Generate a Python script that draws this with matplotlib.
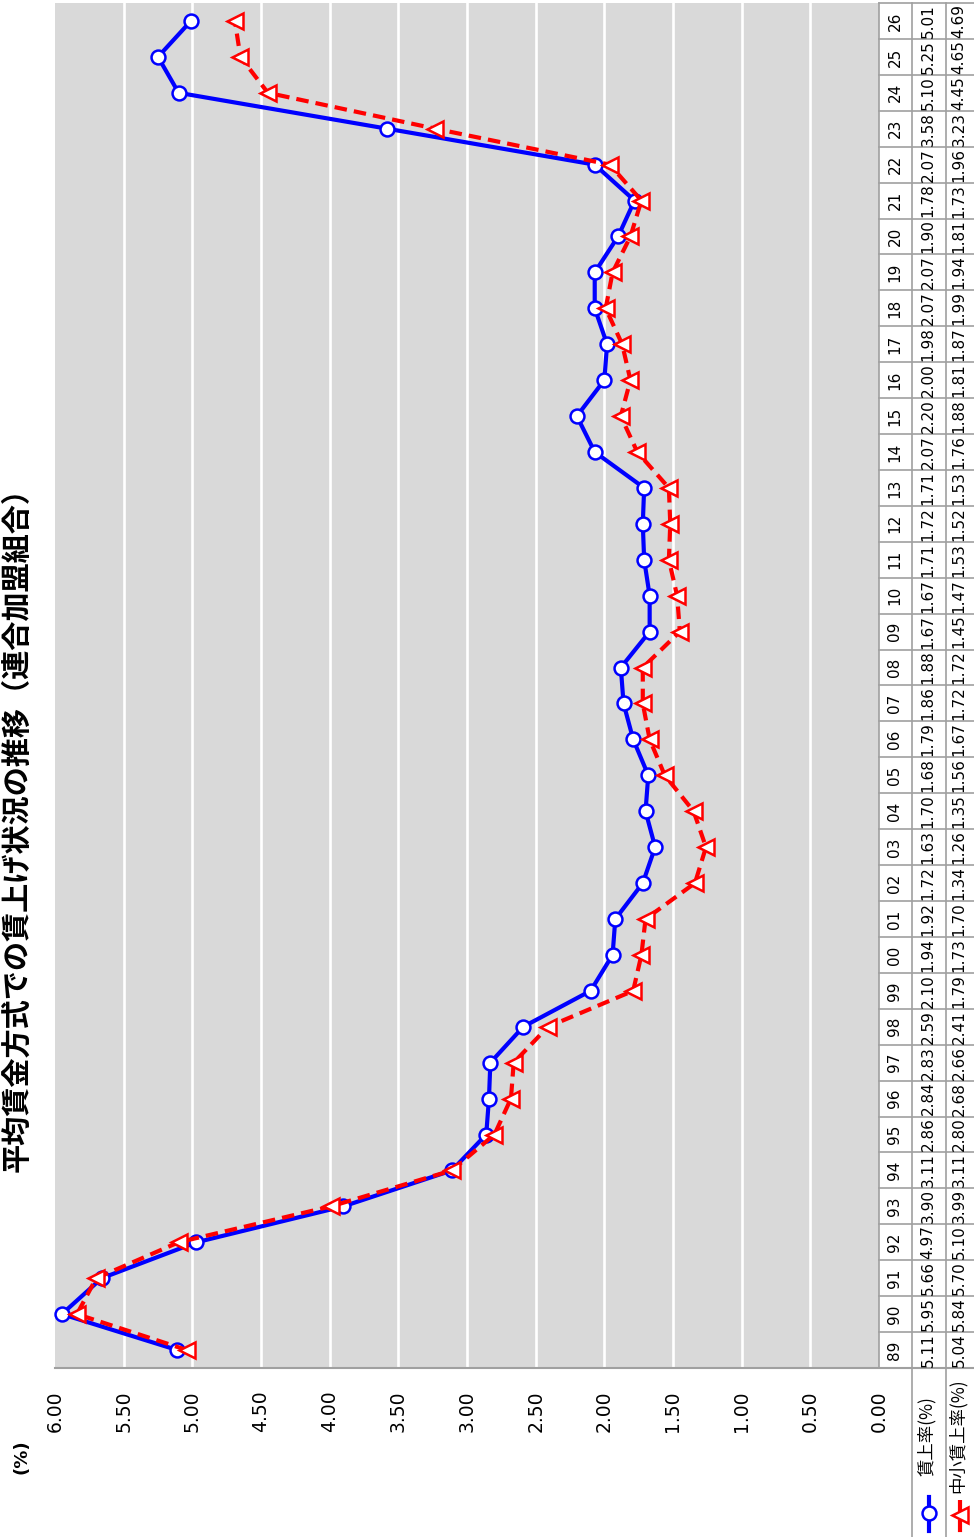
import numpy as np
import matplotlib
matplotlib.use('Agg')
import matplotlib.pyplot as plt
from matplotlib.lines import Line2D
from matplotlib.transforms import blended_transform_factory

# データ（連合 平均賃金方式 賃上げ率）
years = ['89', '90', '91', '92', '93', '94', '95', '96', '97', '98', '99',
         '00', '01', '02', '03', '04', '05', '06', '07', '08', '09', '10',
         '11', '12', '13', '14', '15', '16', '17', '18', '19', '20', '21',
         '22', '23', '24', '25', '26']
chin_age = [5.11, 5.95, 5.66, 4.97, 3.90, 3.11, 2.86, 2.84, 2.83, 2.59, 2.10,
            1.94, 1.92, 1.72, 1.63, 1.70, 1.68, 1.79, 1.86, 1.88, 1.67, 1.67,
            1.71, 1.72, 1.71, 2.07, 2.20, 2.00, 1.98, 2.07, 2.07, 1.90, 1.78,
            2.07, 3.58, 5.10, 5.25, 5.01]
chusho = [5.04, 5.84, 5.70, 5.10, 3.99, 3.11, 2.80, 2.68, 2.66, 2.41, 1.79,
          1.73, 1.70, 1.34, 1.26, 1.35, 1.56, 1.67, 1.72, 1.72, 1.45, 1.47,
          1.53, 1.52, 1.53, 1.76, 1.88, 1.81, 1.87, 1.99, 1.94, 1.81, 1.73,
          1.96, 3.23, 4.45, 4.65, 4.69]
series_names = ['賃上率(%)', '中小賃上率(%)']
x_ticks = [0.0, 0.5, 1.0, 1.5, 2.0, 2.5, 3.0, 3.5, 4.0, 4.5, 5.0, 5.5, 6.0]
title = '平均賃金方式での賃上げ状況の推移（連合加盟組合）'

JP = ['Noto Sans CJK JP', 'DejaVu Sans']
NUM = ['DejaVu Sans Condensed', 'DejaVu Sans']
BLUE = '#0000ff'
RED = '#ff0000'
GRID = '#a0a0a0'

W, H = 974, 1537
def fx(x):
    return x / W
def fy(y):
    return 1 - y / H

fig = plt.figure(figsize=(W / 100, H / 100), dpi=100)

# グラフ本体（90度回転した配置）
ax = fig.add_axes([fx(55), fy(1368), fx(879) - fx(55), fy(3) - fy(1368)])
ax.set_facecolor('#d9d9d9')
idx = np.arange(len(years))
ax.set_xlim(6, 0)
ax.set_ylim(-0.5, len(years) - 0.5)
for v in x_ticks[1:-1]:
    ax.axvline(v, color='white', lw=1.9, zorder=1)
for s in ax.spines.values():
    s.set_visible(False)
ax.set_yticks([])
ax.set_xticks(x_ticks)
ax.set_xticklabels([f'{v:.2f}' for v in x_ticks], rotation=90, family=NUM, fontsize=13.5)
ax.tick_params(axis='x', length=0, pad=16)

ax.plot(chin_age, idx, color=BLUE, lw=3, marker='o', ms=10, mfc='white',
        mec=BLUE, mew=1.8, zorder=3, clip_on=False)
ax.plot(chusho, idx, color=RED, lw=3, ls=(0, (3, 1.7)), marker='<', ms=11,
        mfc='white', mec=RED, mew=1.8, zorder=4, clip_on=False)

# データテーブル
tr = blended_transform_factory(fig.transFigure, ax.transData)
col_x = [879, 912, 946]
col_c = [895, 928, 959]
for i in range(len(years) + 1):
    fig.add_artist(Line2D([fx(879), fx(974)], [i - 0.5, i - 0.5], transform=tr,
                          color=GRID, lw=1.2))
for cx in col_x:
    bottom = 1368 if cx == 879 else 1537
    fig.add_artist(Line2D([fx(cx), fx(cx)], [fy(3), fy(bottom)], color=GRID, lw=1.2))
# 下の軸線
fig.add_artist(Line2D([fx(55), fx(974)], [fy(1368), fy(1368)], color=GRID, lw=1.5))

for i, y in enumerate(years):
    fig.text(fx(col_c[0]), i, y, transform=tr, rotation=90, ha='center', va='center',
             family=NUM, fontsize=11)
    fig.text(fx(col_c[1]), i, f'{chin_age[i]:.2f}', transform=tr, rotation=90,
             ha='center', va='center', family=NUM, fontsize=11)
    fig.text(fx(col_c[2]), i, f'{chusho[i]:.2f}', transform=tr, rotation=90,
             ha='center', va='center', family=NUM, fontsize=11)

# 凡例（テーブルの行見出し）
fig.add_artist(Line2D([fx(929), fx(929)], [fy(1497), fy(1531)], color=BLUE, lw=3))
fig.add_artist(Line2D([fx(929)], [fy(1513)], marker='o', ms=10, mfc='white', mec=BLUE, mew=1.8))
fig.add_artist(Line2D([fx(960), fx(960)], [fy(1500), fy(1533)], color=RED, lw=3,
                      ls=(0, (3, 1.7))))
fig.add_artist(Line2D([fx(960)], [fy(1515)], marker='<', ms=11, mfc='white', mec=RED, mew=1.8))
fig.text(fx(927), fy(1436), series_names[0], rotation=90, ha='center', va='center',
         family=JP, fontsize=12.5)
fig.text(fx(958), fy(1436), series_names[1], rotation=90, ha='center', va='center',
         family=JP, fontsize=12.5)

# 単位とタイトル
fig.text(fx(22), fy(1457), '(%)', rotation=90, ha='center', va='center',
         fontsize=13, fontweight='bold', family=['DejaVu Sans'])
fig.text(fx(16), fy(822), title, rotation=90, ha='center', va='center',
         fontsize=21, fontweight='bold', family=JP)

fig.savefig('out.png', dpi=100)
